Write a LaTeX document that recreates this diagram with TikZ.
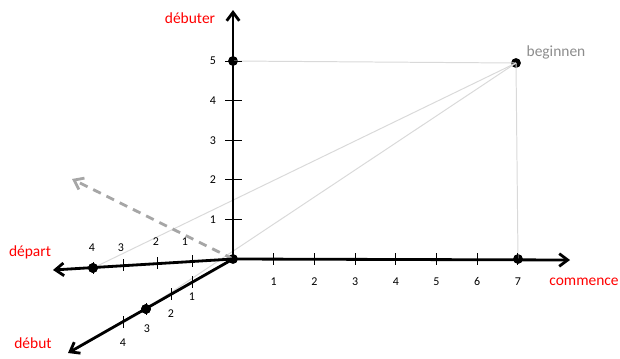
\documentclass[tikz,border=0pt]{standalone}
\usepackage{fontspec}
\setmainfont{Carlito}
\usetikzlibrary{arrows.meta, positioning}
\definecolor{axisred}{HTML}{FF0000}
\definecolor{guidegray}{HTML}{D9D9D9}
\definecolor{labelgray}{HTML}{8C8C8C}
\definecolor{dashgray}{HTML}{A6A6A6}

\begin{document}
\begin{tikzpicture}[x=0.025cm, y=-0.025cm,
  axis/.style={-{Straight Barb[length=6pt, width=9pt, line width=2pt]}, line width=2pt, black},
  tickmark/.style={line width=0.6pt, black},
  guide/.style={guidegray, line width=0.7pt},
  dot/.style={circle, fill=black, inner sep=0pt, minimum size=7pt},
  axlabel/.style={text=axisred, font=\fontsize{11}{13}\selectfont},
  num/.style={font=\fontsize{8.5}{10}\selectfont, inner sep=1pt},
]
  \useasboundingbox (0,0) rectangle (620,358);

  % axis ends
  \coordinate (O) at (233,259);
  \coordinate (yend) at (233,10);
  \coordinate (xend) at (570,260);
  \coordinate (dend) at (53,270);
  \coordinate (eend) at (68,353);
  \coordinate (dashend) at (72,179);

  % points
  \node[dot] (pO) at (O) {};
  \node[dot] (pY5) at (233,61) {};
  \node[dot] (pB) at (516,63) {};
  \node[dot] (pX7) at (518,259) {};
  \node[dot] (pD4) at (93,268) {};
  \node[dot] (pE3) at (146,309) {};

  % guide lines
  \draw[guide] (pY5.center) -- (pB.center);
  \draw[guide] (pB.center) -- (pX7.center);
  \draw[guide] (pB.center) -- (pD4.center);
  \draw[guide] (pB.center) -- (pE3.center);

  % dashed direction
  \draw[dashgray, line width=2pt, dash pattern=on 6pt off 4.5pt,
        -{Straight Barb[length=6pt, width=9pt, line width=2pt]}] (O) -- (dashend);

  % axes
  \draw[axis] (O) -- (yend);
  \draw[axis] (O) -- (xend);
  \draw[axis] (O) -- (dend);
  \draw[axis] (O) -- (eend);

  % ticks
  \foreach \i in {1,...,7} {
    \draw[tickmark] (233+40.7*\i,253) -- ++(0,12);
    \node[num] (xl\i) at (233+40.7*\i,282) {\i};
  }
  \foreach \i in {1,...,5} {
    \draw[tickmark] (225,259-39.6*\i) -- ++(17,0);
    \node[num] (yl\i) at (213,259-39.6*\i) {\i};
  }
  \foreach \i/\tx/\ty/\lx/\ly in {1/192/261/185/242, 2/157/263/156/242,
                                  3/123/265/121/248, 4/93/268/92/248} {
    \draw[tickmark] (\tx,\ty-6) -- ++(0,12);
    \node[num] (dl\i) at (\lx,\ly) {\i};
  }
  \foreach \i/\tx/\ty/\lx/\ly in {1/192/282/192/297, 2/171/294/171/314,
                                  3/146/309/147/329, 4/123/322/123/343} {
    \draw[tickmark] (\tx,\ty-6) -- ++(0,12);
    \node[num] (el\i) at (\lx,\ly) {\i};
  }
  \node[dot] at (pD4) {};
  \node[dot] at (pE3) {};

  % labels
  \node[axlabel] (lblY) at (190,18) {débuter};
  \node[axlabel] (lblX) at (584,282) {commence};
  \node[axlabel] (lblD) at (30,252) {départ};
  \node[axlabel] (lblE) at (33,343) {début};
  \node[text=labelgray, font=\fontsize{11}{13}\selectfont] (lblB) at (556,52) {beginnen};
\end{tikzpicture}
\end{document}
